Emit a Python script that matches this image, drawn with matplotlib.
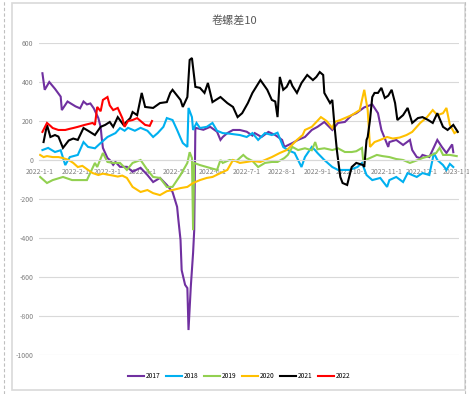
import numpy as np
import pandas as pd
import matplotlib
matplotlib.use("Agg")
import matplotlib.pyplot as plt
from matplotlib.lines import Line2D
from matplotlib.patches import Rectangle

plt.rcParams['font.family'] = ['Noto Sans CJK SC', 'DejaVu Sans']

TITLE = "卷螺差10"
BASE = pd.Timestamp("2022-01-01")

# day offset from 2022-01-01
d2017 = [2, 4, 8, 13, 18, 19, 24, 31, 35, 38, 41, 44, 47, 51, 53, 54, 55, 59, 61, 64, 66, 70, 76,
         81, 88, 94, 99, 105, 111, 116, 120, 121, 123, 124, 127, 129, 130, 132, 134, 135, 136, 143,
         149, 155, 158, 160, 164, 169, 175, 181, 186, 188, 194, 200, 206, 212, 214, 221, 226, 232,
         238, 243, 249, 256, 261, 267, 273, 277, 284, 291, 296, 299, 305, 306, 312, 318, 324, 326,
         330, 333, 335, 341, 348, 352, 356, 361, 362]
v2017 = [445, 360, 400, 365, 325, 256, 300, 275, 265, 300, 285, 290, 265, 215, 170, 110, 62, 10, 0,
         -25, -10, -35, -35, -60, -40, -77, -113, -92, -128, -164, -240, -300, -410, -565, -640,
         -657, -872, -650, -477, -360, 165, 155, 170, 145, 103, 118, 138, 154, 154, 145, 125, 138,
         118, 144, 128, 103, 67, 87, 103, 118, 154, 170, 195, 154, 190, 195, 230, 240, 270, 285, 240,
         154, 67, 92, 103, 77, 103, 51, 15, 10, 26, 15, 103, 67, 36, 80, 40]

d2018 = [2, 7, 13, 18, 22, 26, 33, 38, 42, 48, 53, 59, 66, 70, 74, 77, 83, 88, 94, 99, 103, 108,
         111, 116, 120, 123, 125, 129, 130, 133, 134, 137, 140, 146, 151, 155, 160, 166, 175, 181,
         186, 191, 197, 203, 208, 213, 217, 223, 229, 232, 238, 241, 243, 249, 256, 261, 271, 278,
         282, 286, 291, 298, 304, 306, 312, 318, 322, 330, 335, 341, 345, 348, 353, 356, 359, 362]
v2018 = [51, 62, 41, 50, -26, 15, 26, 92, 67, 60, 87, 118, 138, 164, 150, 165, 150, 165, 150, 118,
         138, 170, 215, 205, 154, 113, 87, 67, 267, 220, 154, 190, 164, 170, 190, 150, 138, 135,
         128, 118, 138, 103, 138, 128, 140, 67, 51, 36, -36, 15, 67, 50, 36, 0, -36, -51, -51, -36,
         -15, -77, -103, -92, -138, -103, -87, -113, -67, -87, -67, -77, 36, 0, -26, -51, -20, -36]

d2019 = [0, 6, 11, 20, 28, 35, 41, 48, 50, 55, 59, 64, 70, 76, 81, 88, 94, 99, 105, 111, 116, 123,
         129, 131, 133, 134, 135, 140, 146, 155, 158, 160, 166, 172, 178, 181, 186, 191, 197, 203,
         208, 214, 217, 221, 226, 232, 238, 241, 243, 249, 256, 261, 267, 273, 277, 282, 283, 287,
         295, 300, 306, 312, 318, 324, 331, 335, 341, 347, 350, 353, 359, 365]
v2019 = [-87, -118, -103, -87, -103, -103, -103, -15, -36, 36, -10, -15, -15, -51, -15, 0, -51, -87,
         -92, -138, -138, -77, -15, 40, 10, -360, -15, -26, -36, -51, 0, -15, 0, -5, 26, 10, -5,
         -36, -15, -10, -10, 10, 26, 67, 51, 60, 50, 92, 55, 60, 51, 60, 41, 41, 45, 62, 0, 5, 26,
         20, 15, 5, 0, -15, 0, 10, 20, 36, 62, 26, 26, 20]

d2020 = [0, 3, 6, 11, 16, 20, 25, 29, 33, 37, 42, 46, 51, 55, 59, 64, 68, 72, 76, 81, 88, 94, 99,
         105, 111, 116, 123, 129, 134, 140, 146, 151, 158, 164, 169, 175, 181, 186, 193, 199, 203,
         210, 216, 219, 225, 230, 232, 238, 242, 246, 251, 256, 258, 263, 269, 273, 280, 284, 287,
         289, 293, 298, 304, 309, 315, 321, 326, 333, 339, 344, 348, 353, 356, 359, 363, 365]
v2020 = [26, 15, 20, 15, 15, 10, 0, -15, -36, -30, -51, -67, -77, -70, -75, -80, -85, -80, -92,
         -138, -164, -154, -170, -180, -160, -154, -144, -138, -118, -103, -92, -87, -67, -51, 0,
         -15, -10, -5, -10, 5, 15, 36, 51, 67, 103, 128, 154, 170, 195, 220, 200, 164, 195, 205,
         220, 230, 256, 360, 256, 67, 92, 103, 118, 110, 115, 128, 144, 190, 220, 256, 230, 240,
         267, 180, 138, 145]

d2021 = [3, 6, 9, 13, 16, 20, 25, 29, 33, 38, 42, 48, 53, 57, 61, 64, 68, 73, 79, 81, 85, 89, 92,
         99, 105, 111, 114, 116, 123, 125, 129, 131, 133, 136, 140, 144, 147, 151, 158, 164, 169,
         173, 177, 182, 186, 193, 199, 203, 206, 208, 210, 213, 216, 219, 221, 225, 229, 234, 239,
         242, 245, 248, 249, 254, 256, 258, 260, 263, 265, 269, 273, 277, 283, 284, 286, 287, 289,
         291, 293, 296, 299, 302, 305, 308, 311, 313, 318, 322, 326, 331, 335, 340, 344, 348, 353,
         357, 362, 366]
v2021 = [92, 180, 118, 128, 120, 62, 100, 110, 103, 164, 150, 128, 170, 180, 195, 170, 220, 180, 215,
         246, 230, 344, 272, 267, 292, 297, 344, 360, 308, 272, 323, 513, 523, 375, 370, 344, 395,
         297, 323, 292, 272, 220, 240, 292, 344, 410, 360, 308, 300, 220, 426, 360, 375, 410, 380,
         344, 395, 436, 410, 426, 451, 436, 344, 292, 308, 170, 50, -87, -118, -128, -36, -15, -26,
         -36, 103, 118, 205, 323, 344, 344, 370, 318, 330, 360, 292, 205, 230, 267, 190, 215, 220,
         205, 190, 240, 170, 154, 180, 144]

d2022 = [2, 6, 9, 11, 16, 22, 26, 29, 33, 39, 46, 48, 50, 53, 55, 59, 61, 64, 68, 72, 74, 77, 81,
         85, 88, 92, 96, 98]
v2022 = [144, 190, 175, 164, 154, 154, 160, 164, 170, 180, 190, 180, 272, 250, 308, 323, 280, 256,
         267, 215, 170, 200, 205, 215, 200, 180, 175, 200]

YEARS = ["2017", "2018", "2019", "2020", "2021", "2022"]
COLORS = ["#7030A0", "#00B0F0", "#92D050", "#FFC000", "#000000", "#FF0000"]
SERIES = [(d2017, v2017), (d2018, v2018), (d2019, v2019), (d2020, v2020), (d2021, v2021), (d2022, v2022)]

TICK_DATES = pd.date_range("2022-01-01", "2023-01-01", freq="MS")
YTICKS = [600, 400, 200, 0, -200, -400, -600, -800, -1000]

fig = plt.figure(figsize=(4.69, 3.94), dpi=100)

# outer frame: dashed guides + light chart-area border
for xf in (4 / 469, 465 / 469):
    fig.add_artist(Line2D([xf, xf], [0, 1], color="#bfbfbf", lw=0.8, ls=(0, (3, 2))))
fig.add_artist(Rectangle((12 / 469, 4 / 394), 453 / 469, 387 / 394, transform=fig.transFigure,
                         fill=False, ec="#d9d9d9", lw=1.2))

ax = fig.add_axes([39 / 469, 1 - 355 / 394, 420 / 469, 312 / 394])
for (d, v), yr, c in zip(SERIES, YEARS, COLORS):
    x = BASE + pd.to_timedelta(d, unit="D")
    ax.plot(x, v, color=c, lw=1.5, label=yr, solid_joinstyle="miter")

for s in ["top", "right", "left"]:
    ax.spines[s].set_visible(False)
ax.spines["bottom"].set_position(("data", 0))
ax.spines["bottom"].set_color("#d9d9d9")
ax.spines["bottom"].set_linewidth(0.8)

ax.set_ylim(-1000, 600)
ax.set_xlim(BASE - pd.Timedelta(days=1), pd.Timestamp("2023-01-03"))
ax.set_yticks(YTICKS)
ax.set_yticklabels([str(t) for t in YTICKS])
ax.set_xticks(TICK_DATES)
ax.set_xticklabels([f"{t.year}-{t.month}-{t.day}" for t in TICK_DATES])
ax.tick_params(length=0, labelsize=5, labelcolor="#7f7f7f")
ax.tick_params(axis="y", pad=4)
ax.tick_params(axis="x", pad=5.5)
ax.grid(axis="y", color="#d9d9d9", lw=0.8)
ax.set_axisbelow(True)

fig.text(0.5, 1 - 21 / 394, TITLE, ha="center", va="center", fontsize=8, color="#595959")
fig.legend(*ax.get_legend_handles_labels(), loc="center", bbox_to_anchor=(0.51, 1 - 376 / 394),
           ncol=6, frameon=False, fontsize=4.8, handlelength=2.4, columnspacing=0.9,
           handletextpad=0.2)

fig.savefig("out.png", dpi=100)
